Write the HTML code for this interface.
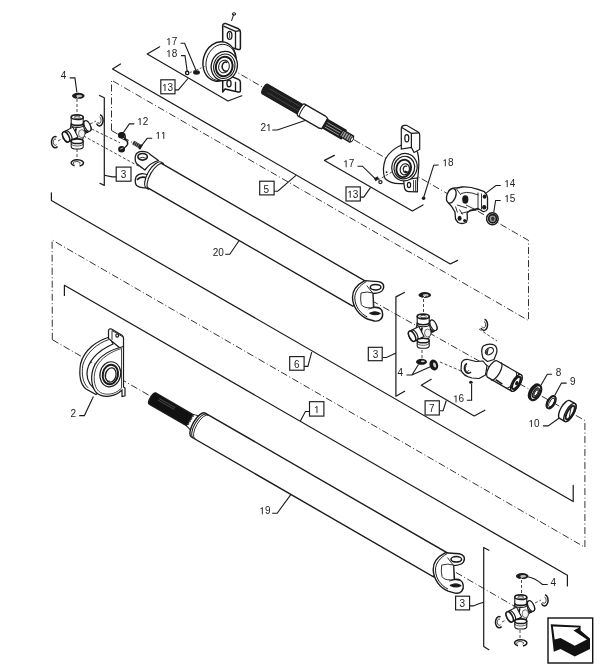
<!DOCTYPE html>
<html><head><meta charset="utf-8">
<style>
html,body{margin:0;padding:0;background:#fff;}
body{width:604px;height:671px;overflow:hidden;}
svg{display:block;will-change:transform;}
text{font-family:"Liberation Sans",sans-serif;font-size:10px;fill:#222;stroke:none;}
</style></head>
<body>
<svg width="604" height="671" viewBox="0 0 604 671">
<defs>
<g id="yoke" stroke="#1a1a1a" stroke-width="1.2" fill="#fff" stroke-linejoin="round">
  <path d="M-10.6,-6.9 C-18,-3 -23,3 -22.8,10 C-22.5,20 -16,28 -7.9,31.5 L-1,33.5 C5,34.5 8,30 7.2,25.5 C6.8,21 3,19 -1.5,19.8 L-2.5,6 C2,6 8,4.5 8.4,-0.5 C8.6,-5 4,-6.3 -1,-6.1 Z" stroke-width="1.4"/>
  <path d="M-9,-5.9 C-16,-2 -20.6,4 -20.5,10.5 C-20.3,19 -15,26 -8,29.5" fill="none" stroke-width="1"/>
  <path d="M-14.3,5.5 Q-15.2,12 -14,17 Q-12,20.5 -5,20.3 L-2,19.8 L-2.5,5.5 Q-8,3.5 -14.3,5.5 Z" stroke-width="0.9"/>
  <path d="M-8.5,-2 Q-5,3 -2.5,5.5" fill="none" stroke-width="0.9"/>
  <ellipse cx="0.3" cy="-0.3" rx="5.3" ry="2.7" stroke-width="1.5"/>
  <path d="M-5.6,25.8 Q0,22.8 4.8,26 Q0,28.6 -5.6,25.8 Z" fill="#1a1a1a"/>
  <path d="M-7,21.5 Q-1,19 5,21" fill="none" stroke-width="0.8"/>
</g>
</defs>
<!-- ===== axis dash-dot lines ===== -->
<g fill="none" stroke="#333" stroke-width="1" stroke-dasharray="7 2.5 1 2.5">
<path d="M111.5,130.5 L111.5,80.2 L528.5,320.5 L528.5,240.4 L226,66"/>
<path d="M52.3,339.7 L52.1,240 L584.9,547.3 L584.9,420.5 L368,298.5"/>
<path d="M52.3,339.7 L152,397"/>
<path d="M456,572.5 L514,606"/>
<path d="M111.5,130.5 L134,143.5"/>
</g>
<!-- ===== group brackets (solid) ===== -->
<g fill="none" stroke="#1a1a1a" stroke-width="1.2" stroke-linejoin="round" stroke-linecap="round">
<path d="M159.7,46.8 L147.2,54 L228,101 L241.8,95.8"/>
<path d="M120.5,64 L112.5,68.9 L450.3,264 L457.6,260.4"/>
<path d="M51.4,192.8 L51.4,200.5 L573.2,501.6 L573.2,485.4"/>
<path d="M64.4,295.5 L64.4,285.3 L567.4,575.3 L567.4,586"/>
<path d="M334.4,155.4 L324.5,160.4 L412.4,210.9 L423,204.9"/>
<!-- group 3 brackets -->
<path d="M99.6,95.5 L104.3,97.8 L104.3,185.4 L99.9,183.3"/>
<path d="M404.4,292.5 L395.9,296.9 L395.9,396.2 L404.6,391.2"/>
<path d="M488.9,550.3 L483.7,547.5 L483.7,646.6 L488.9,649.7"/>
<!-- group 7 bracket -->
<path d="M431.2,379.3 L421.3,385.2 L474.2,416 L484.8,410.2"/>
</g>

<!-- ===== Shaft 20 ===== -->
<g stroke="#1a1a1a" stroke-width="1.3" fill="#fff">
  <path d="M136.2,176.5 Q134,181.5 136.5,185.5 Q140,188.5 146.5,187.6 L148,175 Q140.5,171.5 136.2,176.5 Z"/>
  <path d="M137,179.8 Q140.5,175.8 146.8,177.8" fill="none" stroke-width="1.8"/>
</g>
<g transform="translate(154,175.2) rotate(30)" stroke="#1a1a1a" stroke-width="1.3" fill="#fff">
  <path d="M0,-14 L237,-14 A4,14 0 0 1 237,14 L0,14 A6,14 0 0 1 0,-14 Z"/>
  <path d="M0,-15 A6.5,15 0 0 0 0,15 L2.8,15 A6.5,15 0 0 1 2.8,-15 Z" stroke-width="1.1"/>
</g>
<g stroke="#1a1a1a" stroke-width="1.3" fill="#fff" stroke-linejoin="round">
  <path d="M144.8,170 L136.5,163.5 Q134.8,161.5 135.2,157 Q136,151.5 141.5,151.3 Q148,151.2 150.5,154.8 L158.5,160.5 Q150,163 144.8,170 Z"/>
  <ellipse cx="142.6" cy="156.8" rx="4.7" ry="3.3" stroke-width="1.6"/>
  <path d="M138.5,158.5 Q142.5,156 146.5,158.5" fill="none" stroke-width="0.9"/>
</g>
<use href="#yoke" x="375.3" y="287.5"/>

<!-- ===== Shaft 19 ===== -->
<g transform="translate(197,424.3) rotate(30)" stroke="#1a1a1a" stroke-width="1.3" fill="#fff">
  <path d="M-51.5,-6.5 L-7,-6.5 L-7,6.5 L-51.5,6.5 A2.2,6.5 0 0 1 -51.5,-6.5 Z" fill="#111"/>
  <path d="M-46,-3.5 L-27,-3.5 M-46,-1.5 L-27,-1.5" stroke="#777" stroke-width="0.5"/>
  <path d="M-8.5,-6.5 L-2,-8.5 L-2,8.5 L-8.5,6.5 Z" fill="#fff" stroke-width="0.9"/>
  <path d="M-8.5,-6.5 L-7,-5 L-8.5,-3.5 L-7,-2 L-8.5,-0.5 L-7,1 L-8.5,2.5 L-7,4 L-8.5,5.5" fill="none" stroke-width="0.8"/>
  <path d="M1.5,-13.8 L281,-13.8 L281,13.8 L1.5,13.8 A5.5,13.8 0 0 1 1.5,-13.8 Z" stroke-width="1.4"/>
  <path d="M3.5,-13.6 A5.5,13.6 0 0 0 3.5,13.6" fill="none" stroke-width="1"/>
  <path d="M5.5,-13.5 A5.5,13.5 0 0 0 5.5,13.5" fill="none" stroke-width="0.8"/>
</g>
<use href="#yoke" x="456" y="559.6"/>

<!-- ===== Shaft 21 ===== -->
<g transform="translate(264.9,89) rotate(30)" stroke="#1a1a1a" stroke-width="1.2" fill="#fff">
  <path d="M0,-5.5 L43,-5.5 L43,5.5 L0,5.5 A2,5.5 0 0 1 0,-5.5 Z" fill="#1e1e1e"/>
  <path d="M4,-2.5 L40,-2.5 M4,2 L40,2" stroke="#555" stroke-width="0.6"/>
  <path d="M69,-5 L91,-5 L91,5 L69,5 Z" fill="#1e1e1e"/>
  <path d="M71,-2.2 L89,-2.2 M71,0.5 L89,0.5 M71,3 L89,3" stroke="#bbb" stroke-width="0.7"/>
  <path d="M42,-6.8 L66,-6.8 A2,6.8 0 0 1 66,6.8 L42,6.8 A2,6.8 0 0 1 42,-6.8 Z"/>
  <path d="M44.5,-6.8 A2,6.8 0 0 0 44.5,6.8" fill="none" stroke-width="0.9"/>
  <path d="M66,-6.8 L69,-6 L69,6 L66,6.8" fill="#fff"/>
  <path d="M88,-3.6 L100,-3.6 A1.2,3.6 0 0 1 100,3.6 L88,3.6 Z" fill="#9a9a9a"/>
  <path d="M90,-3.6 L90,3.6 M92.5,-3.6 L92.5,3.6 M95,-3.6 L95,3.6 M97.5,-3.6 L97.5,3.6" stroke-width="0.9"/>
  <ellipse cx="100.5" cy="0" rx="1.2" ry="2.5" fill="#fff" stroke-width="0.9"/>
</g>

<!-- ===== Bearing 2 ===== -->
<g stroke="#1a1a1a" stroke-width="1.2" fill="#fff">
  <path d="M109.5,337 C97,340.5 84,350 80.5,364 C79,374 80,384 86,389 L96,394.5 L99,392 C92,388 87,383 87,374 C87,362 97,351 113,344 Z"/>
  <path d="M108.8,339.6 C98,343 86.5,352 82.8,365 C81.5,374 82.5,383 88.5,388.2" fill="none" stroke-width="0.9"/>
  <path d="M108.5,338.5 L108.5,330.5 Q109,328.3 111.5,329 L122,335.3 Q123.5,336.3 123.5,338 L123.5,347 L120,348 Z"/>
  <path d="M112,330.5 L112,339.8 M112,330.5 L123,337" fill="none" stroke-width="0.9"/>
  <ellipse cx="117.2" cy="335.6" rx="1.4" ry="1.6"/>
  <path d="M123.5,346.5 C111,349.5 99.5,356 94.5,365.5 C90,375 91,387 96.5,392.8 C102,398 113,397 119,392.5 L122,390 L122,396.5 L125,395.8 L125,388 L123.5,387 Z"/>
  <path d="M121.5,348.5 C111,351.5 101,358 96.8,366.5 C92.8,375 93.5,386 98.5,391 C103,395.5 112.5,395 118,391 L121.5,388.2 Z" fill="none" stroke-width="0.8"/>
  <ellipse cx="110.3" cy="374.3" rx="10.3" ry="12.6" transform="rotate(12 110.3 374.3)"/>
  <ellipse cx="110.4" cy="374.5" rx="7.6" ry="9.8" stroke-width="2" transform="rotate(12 110.4 374.5)"/>
  <ellipse cx="110.8" cy="375" rx="5.2" ry="7.2" transform="rotate(12 110.8 375)"/>
  <path d="M108,370 A3.5,5 0 0 0 110,381" fill="none" stroke-width="0.8"/>
</g>
<!-- ===== Top bearing (13) ===== -->
<g stroke="#1a1a1a" stroke-width="1.2" fill="#fff" stroke-linejoin="round">
  <path d="M222.7,44 L222.7,25.5 Q223,23.2 226,23.6 L238.5,28.8 Q240.4,29.8 240.4,32 L240.4,48 Q240.4,50 238,49.5 L233,48 Z" stroke-width="1.5"/>
  <path d="M223.5,26.2 L235.5,31.3 L240,30.6 M235.5,31.3 L235.5,48.5" fill="none" stroke-width="1.3"/>
  <ellipse cx="229.6" cy="35.4" rx="2.3" ry="3.9" stroke-width="1.3"/>
  <path d="M229.6,33 L229.6,38" fill="none" stroke-width="0.8"/>
  <path d="M222.7,92 L222.7,75.5 Q223,73.7 226,74.2 L238.5,79.4 Q240.4,80.4 240.4,82.6 L240.4,90.5 Q240.4,92.5 238,92 L225,89 Z" stroke-width="1.5"/>
  <path d="M235.5,81.8 L235.5,91.5" fill="none" stroke-width="1.3"/>
  <ellipse cx="229" cy="83.5" rx="2.1" ry="3.3" stroke-width="1.3"/>
  <ellipse cx="219.5" cy="61.5" rx="16.3" ry="20" transform="rotate(15 219.5 61.5)" stroke-width="1.4"/>
  <ellipse cx="221" cy="62.5" rx="14.8" ry="18.4" transform="rotate(15 221 62.5)" fill="none" stroke-width="0.9"/>
  <ellipse cx="224.3" cy="66" rx="13" ry="14.8" transform="rotate(15 224.3 66)" stroke-width="1.3"/>
  <ellipse cx="224.3" cy="66.3" rx="10.6" ry="12.4" transform="rotate(15 224.3 66.3)" stroke-width="1"/>
  <ellipse cx="224.2" cy="66.5" rx="8.3" ry="9.8" transform="rotate(15 224.2 66.5)" stroke-width="2"/>
  <ellipse cx="224" cy="66.5" rx="5.3" ry="6.4" transform="rotate(15 224 66.5)" stroke-width="1"/>
  <path d="M227.3,62.5 A3.6,4.6 0 1 0 227.6,70.5" fill="none" stroke-width="1.6"/>
  <path d="M233.8,14 L231.5,21" fill="none" stroke-width="1"/>
  <ellipse cx="234" cy="14" rx="1.8" ry="1.2" fill="none" stroke-width="1"/>
</g>
<!-- 17 / 18 top -->
<ellipse cx="196.5" cy="72.5" rx="3.4" ry="2.2" fill="#1a1a1a"/>
<circle cx="187.2" cy="72.9" r="1.7" fill="none" stroke="#1a1a1a" stroke-width="1.4"/>
<g fill="none" stroke="#333" stroke-width="0.8" stroke-dasharray="2 1.5"><path d="M190,72.5 L205,66.5"/></g>

<!-- ===== Lower bearing (13) ===== -->
<g stroke="#1a1a1a" stroke-width="1.2" fill="#fff">
  <path d="M402.5,144.5 Q390,150 385.5,159 Q381.5,170 385,178.5 Q391,184.5 403,183.5 L417,187 L418.5,170 Q419.5,160 417.5,152 L410,146 Z"/>
  <path d="M401.3,149 L401.3,128.5 Q401.5,125.5 404.5,125.3 L406.6,125.3 L418.5,132.2 Q419.7,133 419.7,135 L419.7,149.5 L414,152.5 L411.4,147.5 Z"/>
  <path d="M401.8,127.5 L411.4,133.3 L419,132.8 M411.4,133.3 L411.4,148" fill="none"/>
  <ellipse cx="406.8" cy="138.2" rx="2" ry="3.6"/>
  <path d="M403.6,180 L404.5,188 Q405.5,191.5 409,191.6 L417.4,191.8 L417.4,178 Z"/>
  <ellipse cx="409" cy="185" rx="1.6" ry="2.6"/>
  <path d="M413.5,180 L413.5,191.5 M415.5,180 L415.5,191.5" fill="none" stroke-width="0.8"/>
  <ellipse cx="404.5" cy="167.2" rx="12.6" ry="13.8" transform="rotate(15 404.5 167.2)"/>
  <ellipse cx="404.3" cy="167.6" rx="10.3" ry="11.4" transform="rotate(15 404.3 167.6)"/>
  <ellipse cx="403.7" cy="168.4" rx="7.2" ry="8.8" stroke-width="1.9" transform="rotate(15 403.7 168.4)"/>
  <ellipse cx="404.8" cy="169.3" rx="4.6" ry="5.6" transform="rotate(15 404.8 169.3)"/>
  <path d="M407,166.5 A2.6,3.2 0 1 0 407.2,172 L405,171.2" fill="none" stroke-width="1.3"/>
</g>
<g fill="none" stroke="#333" stroke-width="0.9" stroke-dasharray="2.5 2"><path d="M378,180 L392,172"/></g>
<circle cx="423.6" cy="198.3" r="1.8" fill="#1a1a1a"/>
<path d="M374.5,178.5 L377.5,176.8 L378.5,179 L375.5,180.8 Z" fill="#1a1a1a" stroke="#1a1a1a" stroke-width="0.8"/>
<ellipse cx="380.4" cy="182.1" rx="1.6" ry="1.5" fill="none" stroke="#1a1a1a" stroke-width="1.2"/>
<circle cx="386.6" cy="172.2" r="0.9" fill="#1a1a1a"/>

<!-- ===== Yoke 14 + nut 15 ===== -->
<g stroke="#1a1a1a" stroke-width="1.3" fill="#fff" stroke-linejoin="round">
  <path d="M449,190.5 Q452,187 457,188 L462,187 Q470,186.5 478,189.4 L484.3,191.7 Q488,195 487.5,200 L487.5,209 Q486,212 483,211.5 L478,208.5 L470,210.5 L467,213 Q468,220 466,222.5 Q462,224.5 458,222.5 L455.5,219 L455,212 Q452,206 448.5,203 Q445.5,198 449,190.5 Z"/>
  <ellipse cx="451.3" cy="195.8" rx="4.4" ry="7.6" transform="rotate(20 451.3 195.8)"/>
  <path d="M456.5,189 L461,195 M461,193.5 Q466,191.5 472,193 L478.5,195 M478,192.5 L478,208 M481.5,193.5 L481.5,209.5 M457,205 L467,208 M461,213.5 Q470,210.5 479,209.5 M455.5,206.5 L457.5,212.5 M459.5,209.5 L462.5,214.5 M466,205 L476,210" fill="none" stroke-width="0.9"/>
  <ellipse cx="465.3" cy="199.5" rx="3.1" ry="4.2" fill="#1a1a1a" stroke="none"/>
  <ellipse cx="484.6" cy="196.6" rx="1.9" ry="2.2" fill="#1a1a1a" stroke="none"/>
  <ellipse cx="484.2" cy="207.2" rx="2.1" ry="2.3" fill="#1a1a1a" stroke="none"/>
  <ellipse cx="459.6" cy="218.3" rx="2" ry="2.5" fill="#1a1a1a" stroke="none"/>
  <ellipse cx="464.6" cy="220.6" rx="1.5" ry="1.6" fill="#1a1a1a" stroke="none"/>
</g>
<g stroke="#1a1a1a" fill="#fff">
  <ellipse cx="492.4" cy="218.8" rx="5.8" ry="6" stroke-width="1.5"/>
  <ellipse cx="492.6" cy="218.8" rx="3.9" ry="4.1" stroke-width="1.7" fill="#999"/>
  <ellipse cx="492.8" cy="218.8" rx="1.7" ry="2.1" fill="#333" stroke="none"/>
</g>

<!-- ===== U-joint defs ===== -->
<defs>
<g id="uj" stroke="#1a1a1a" stroke-width="1.1" fill="#fff">
  <g transform="rotate(-27)">
    <path d="M2,-5.6 L11.5,-5.6 A2.8,5.6 0 0 1 11.5,5.6 L2,5.6 Z"/>
    <ellipse cx="11.5" cy="0" rx="2.8" ry="5.6"/>
    <path d="M9.3,-5.3 A2.8,5.3 0 0 0 9.3,5.3" fill="none" stroke-width="2.2"/>
  </g>
  <path d="M-6,-7 L6,-7 L8,2 L5,9 L-6,10 L-8,2 Z"/>
  <path d="M-1,-3 Q-3,3 -1,9" fill="none" stroke-width="1.8"/>
  <ellipse cx="4.5" cy="2.5" rx="3.2" ry="4" fill="#f4f4f4" stroke-width="0.6"/>
  <path d="M-6,-14 L-6,-6 A6,2.2 0 0 0 6,-6 L6,-14 Z"/>
  <path d="M-6,-8 A6,2.2 0 0 0 6,-8" fill="none" stroke-width="1.6"/>
  <ellipse cx="0" cy="-14" rx="6" ry="2.3" stroke-width="1.7"/>
  <ellipse cx="0" cy="-14" rx="3" ry="1.1" fill="none" stroke-width="0.7"/>
  <g transform="rotate(-27)">
    <path d="M-2,-5.6 L-12.5,-5.6 A2.8,5.6 0 0 0 -12.5,5.6 L-2,5.6 Z"/>
    <ellipse cx="-12.5" cy="0" rx="2.8" ry="5.6" stroke-width="1.5"/>
    <path d="M-10,-5.5 A2.8,5.5 0 0 1 -10,5.5" fill="none" stroke-width="1.2"/>
  </g>
  <path d="M-6,10 L-6,15.5 A6,2.3 0 0 0 6,15.5 L6,10 Z"/>
  <ellipse cx="0" cy="10" rx="6" ry="2.3" stroke-width="1.6"/>
  <path d="M-6,12.5 A6,2.3 0 0 0 6,12.5" fill="none" stroke-width="0.7"/>
</g>
<g id="ring" >
  <ellipse cx="0" cy="0" rx="6.3" ry="3" fill="#1a1a1a"/>
  <ellipse cx="0.9" cy="0.2" rx="3" ry="1.2" fill="#bbb"/>
  <path d="M-1.5,2.8 L0.3,0.8" stroke="#fff" stroke-width="0.9"/>
</g>
<g id="cring" fill="none" stroke="#1a1a1a" stroke-width="1.5">
  <path d="M1,-5.2 A3.6,5.6 0 1 1 -2.5,3.5"/>
  <path d="M0.5,-3 A2,3.2 0 1 1 -1.5,2" stroke-width="0.8"/>
</g>
<g id="cringL" fill="none" stroke="#1a1a1a" stroke-width="1.5">
  <path d="M1.5,-5 A3.6,5.6 0 1 0 2.5,4.5"/>
  <path d="M1,-2.8 A2,3.2 0 1 0 1.5,2.6" stroke-width="0.8"/>
</g>
<g id="bring" fill="none" stroke="#1a1a1a" stroke-width="1.5">
  <path d="M-2,2.8 A6.2,3.2 0 1 1 3,2.9"/>
  <path d="M-2.5,1.2 A3.5,1.6 0 1 1 2.5,1.3" stroke-width="0.8"/>
</g>
</defs>

<!-- top-left U-joint -->
<g fill="none" stroke="#333" stroke-width="0.9" stroke-dasharray="3 2">
  <path d="M77,99 L77,113"/><path d="M77,149 L77,160"/>
  <path d="M58,141 L63,138"/><path d="M90,124 L96,121"/>
  <path d="M91.6,128.9 L120,142.8"/><path d="M83.5,135.9 L141.4,167.7"/>
</g>
<use href="#uj" x="77.2" y="131.2"/>
<use href="#ring" x="78.3" y="95.8"/>
<use href="#cring" x="99" y="120"/>
<use href="#cringL" x="55" y="142"/>
<use href="#bring" x="76.6" y="163"/>

<!-- middle U-joint -->
<g fill="none" stroke="#333" stroke-width="0.9" stroke-dasharray="3 2">
  <path d="M423.5,299 L423.5,313"/><path d="M422,350 L422,358"/>
  
</g>
<use href="#uj" x="423.2" y="330.5"/>
<use href="#ring" x="424.8" y="295"/>
<ellipse cx="421.5" cy="361.8" rx="5.5" ry="3" fill="#1a1a1a"/>
<ellipse cx="422.8" cy="361.3" rx="2" ry="0.9" fill="#ccc"/>
<ellipse cx="433.8" cy="365" rx="4.2" ry="5.5" fill="#1a1a1a" transform="rotate(-20 433.8 365)"/>
<ellipse cx="434.6" cy="365" rx="1.4" ry="2.6" fill="#ccc" transform="rotate(-20 434.6 365)"/>

<!-- bottom-right U-joint -->
<g fill="none" stroke="#333" stroke-width="0.9" stroke-dasharray="3 2">
  <path d="M521.5,580 L521.5,594"/><path d="M520,630 L520,639"/>
  <path d="M502,622 L506,620"/><path d="M535,603 L541,600"/>
</g>
<use href="#uj" x="520.8" y="611.2"/>
<use href="#ring" x="522.2" y="576.1"/>
<use href="#cring" x="544" y="600"/>
<use href="#cringL" x="499" y="622"/>
<use href="#bring" x="520" y="643"/>

<!-- clip 12, bolt 11 -->
<g fill="none" stroke="#1a1a1a" stroke-width="1.5" stroke-linecap="round">
  <path d="M119,134 Q121.5,131.5 124.5,134 Q126,137 124.5,139 Q128.5,141 127.5,144.5 Q126,147.5 123,148.5"/>
  <path d="M120,137 Q122,139 125,140" stroke-width="1"/>
  <ellipse cx="121.3" cy="135.4" rx="2.6" ry="2.3" fill="#1a1a1a"/>
  <ellipse cx="121.6" cy="149.2" rx="2.7" ry="2.5" fill="#1a1a1a"/>
  <path d="M120.5,149 L123,148" stroke="#fff" stroke-width="0.7"/>
</g>
<g transform="translate(137,144.8) rotate(30)"><rect x="-4.5" y="-2" width="9" height="4" fill="#2a2a2a"/><path d="M-2.5,-2 L-2.5,2 M-0.5,-2 L-0.5,2 M1.5,-2 L1.5,2" stroke="#aaa" stroke-width="0.6"/><rect x="3.2" y="-2.6" width="2" height="5.2" fill="#1a1a1a"/></g>

<!-- ===== Part 7 slip yoke ===== -->
<g stroke="#1a1a1a" stroke-width="1.2" fill="#fff" stroke-linejoin="round">
  <path d="M461.5,363 Q463,359 468,359.5 L476,361.5 L483,361 L487,366 L485.5,375 L479,378.5 L472,378 Q463,376 461,370 Z"/>
  <path d="M483,358 Q480.3,349.5 483.3,346 Q489,342.8 494.6,345.3 Q497.8,348 496.6,353 L494,359.5 L487.5,361.5 Z"/>
  <ellipse cx="489.4" cy="351.2" rx="4.4" ry="3.2" transform="rotate(-35 489.4 351.2)" stroke-width="1.1"/>
  <path d="M486,353.5 Q485.5,349.5 489,348.2 Q488,351 487.8,354.5 Z" fill="#333" stroke="none"/>
  <g transform="translate(492,370) rotate(30)">
    <path d="M0,-10.5 L27.5,-10.5 A4,9.5 0 0 1 27.5,8.5 L0,8.5 A4,9.5 0 0 1 0,-10.5 Z"/>
    <path d="M4,-11 A4,10 0 0 1 4,9" fill="none"/>
    <path d="M21,-10.5 A4,9.5 0 0 1 21,8.5" fill="none" stroke-width="0.9"/>
    <path d="M24,-10.5 A4,9.5 0 0 1 24,8.5" fill="none" stroke-width="0.9"/>
    <path d="M8,6.5 L16,7" fill="none" stroke-width="1.6"/>
    <ellipse cx="27.5" cy="-1" rx="4" ry="9.5" stroke-width="1.3"/>
    <ellipse cx="27.5" cy="-1" rx="2.8" ry="7" stroke-width="2"/>
    <ellipse cx="28" cy="-1" rx="0.9" ry="1.5" fill="#1a1a1a"/>
  </g>
</g>
<g fill="none" stroke="#1a1a1a" stroke-width="1.6">
  <path d="M467,363.5 A4,5 0 1 0 471,372" />
  <path d="M466.5,366 A2,2.8 0 1 0 469,370" stroke-width="0.8"/>
</g>
<ellipse cx="470.9" cy="382.3" rx="1.8" ry="1.5" fill="#1a1a1a"/>
<use href="#cring" x="483.5" y="324.5"/>
<g fill="none" stroke="#333" stroke-width="0.9" stroke-dasharray="3 2"><path d="M479,329 L497,341"/><path d="M440,362 L461,371"/></g>

<!-- 8, 9, 10 -->
<g stroke="#1a1a1a" fill="none">
  <g transform="translate(535.4,392.5) rotate(30)">
    <ellipse cx="-1.2" cy="0" rx="4.4" ry="8.2" stroke-width="2.2" fill="#fff"/>
    <ellipse cx="0.4" cy="0" rx="4.4" ry="8.2" stroke-width="2.2" fill="#fff"/>
    <ellipse cx="0.6" cy="0" rx="2.6" ry="5.4" stroke-width="1.1" fill="#666"/>
    <ellipse cx="0.8" cy="0" rx="1.4" ry="3.2" stroke-width="0.8" fill="#fff"/>
  </g>
  <g transform="translate(551.2,402.2) rotate(30)">
    <ellipse cx="-0.6" cy="0" rx="3.4" ry="6.9" stroke-width="1.4"/>
    <ellipse cx="0.4" cy="0" rx="3.4" ry="6.9" stroke-width="1.5"/>
    <ellipse cx="0.6" cy="0" rx="2.1" ry="4.9" stroke-width="0.8"/>
  </g>
  <g transform="translate(567.3,411) rotate(30)" fill="#fff">
    <path d="M-3,-10.2 L3,-10.2 A4,10.2 0 0 1 3,10.2 L-3,10.2 A4,10.2 0 0 1 -3,-10.2 Z" stroke-width="1.4"/>
    <ellipse cx="3" cy="0" rx="4" ry="10.2" stroke-width="1.4"/>
    <ellipse cx="3.3" cy="0" rx="2.8" ry="7.6" stroke-width="1.8"/>
    <path d="M1.5,-5 L5,5" stroke-width="0.8"/>
  </g>
</g>
<!-- ===== labels ===== -->
<g fill="#fff" stroke="#1a1a1a" stroke-width="1.15">
  <rect x="160.8" y="79.8" width="14.2" height="14"/>
  <rect x="116.2" y="167.1" width="14.8" height="14.1"/>
  <rect x="259.7" y="181.2" width="14.4" height="13.7"/>
  <rect x="346" y="186.9" width="14.3" height="14.1"/>
  <rect x="289.7" y="356.6" width="14.4" height="13.6"/>
  <rect x="368.3" y="347.3" width="13.9" height="13.4"/>
  <rect x="425.1" y="400.8" width="14.2" height="14.2"/>
  <rect x="309.5" y="401.7" width="14.4" height="14.4"/>
  <rect x="455.6" y="596.2" width="14" height="13.7"/>
</g>
<g fill="none" stroke="#1a1a1a" stroke-width="1.1">
  <path d="M174.9,89.9 L178.3,89.9 L188,78.5"/>
  <path d="M180.6,43.3 L184.6,43.3 L196.3,71"/>
  <path d="M181,55.6 L185,55.6 L187.2,71.3"/>
  <path d="M69.7,77.9 L74.9,77.9 L76.9,92.4"/>
  <path d="M104.3,175.2 L112.2,176.9 L116.2,176.9"/>
  <path d="M134.3,123.9 L129.4,123.9 L122.9,133.3"/>
  <path d="M152.2,138.3 L147.2,138.3 L141.8,145.3"/>
  <path d="M272.3,130 L277.3,130 L305.1,120.5"/>
  <path d="M274,191.2 L277.7,191.2 L296,175.4"/>
  <path d="M357.5,166.2 L362.4,166.2 L375.4,178.8"/>
  <path d="M360.3,197.1 L363.8,197.1 L370.6,187.4"/>
  <path d="M438.7,165 L433.7,165.2 L423.8,197"/>
  <path d="M500.7,185.5 L495.9,185.5 L486.3,192.9"/>
  <path d="M500.7,200.5 L495.6,200.5 L493.8,212"/>
  <path d="M225.2,254.2 L229.8,254.2 L239,240.7"/>
  <path d="M304.1,366.4 L307.9,366.4 L311.7,352.2"/>
  <path d="M382.6,357.5 L386.4,357.5 L396,353.1"/>
  <path d="M406.4,375 L411.9,375 L418.5,364.5 M411.9,375 L430.8,366.5"/>
  <path d="M466.9,400.2 L471.6,400.2 L471.6,384"/>
  <path d="M439.9,410.7 L443.1,410.7 L446.3,400.5"/>
  <path d="M309.5,411.5 L305.4,411.5 L300.4,421"/>
  <path d="M552.1,374.3 L547.3,374.3 L540.2,386.6"/>
  <path d="M566.7,383.1 L561.5,383.1 L554.7,395.6"/>
  <path d="M542.9,425.9 L548.1,425.9 L559.3,418"/>
  <path d="M79.2,415.6 L84.4,415.6 L93.4,396.4"/>
  <path d="M272.2,513.2 L277.2,513.2 L290.8,494.6"/>
  <path d="M469.5,605.9 L473.2,605.9 Q478,604 483.7,602.3"/>
  <path d="M547.7,584.5 L542.5,584.5 Q535,578 527.7,576.8"/>
</g>
<g id="labels" font-size="9.8" text-anchor="middle" style="font-family:'Liberation Sans',sans-serif">
  <text x="167.60" y="91.0">&#x2007;3</text>
  <text x="123.50" y="178.3">3</text>
  <text x="266.40" y="192.5">5</text>
  <text x="352.80" y="197.8">&#x2007;3</text>
  <text x="296.90" y="367.8">6</text>
  <text x="375.50" y="358.3">3</text>
  <text x="431.90" y="411.8">7</text>
  <text x="316.80" y="413.1">&#x2007;</text>
  <text x="462.40" y="607.3">3</text>
  <text x="171.65" y="45.1">&#x2007;7</text>
  <text x="171.65" y="57.1">&#x2007;8</text>
  <text x="63.60" y="78.8">4</text>
  <text x="142.70" y="125.0">&#x2007;2</text>
  <text x="160.90" y="138.9">&#x2007;&#x2007;</text>
  <text x="266.10" y="131.1">2&#x2007;</text>
  <text x="348.70" y="167.3">&#x2007;7</text>
  <text x="447.90" y="166.3">&#x2007;8</text>
  <text x="509.80" y="187.1">&#x2007;4</text>
  <text x="509.80" y="202.1">&#x2007;5</text>
  <text x="218.20" y="255.8">20</text>
  <text x="400.30" y="375.6">4</text>
  <text x="458.60" y="402.4">&#x2007;6</text>
  <text x="558.50" y="375.8">8</text>
  <text x="572.80" y="384.7">9</text>
  <text x="534.00" y="427.0">&#x2007;0</text>
  <text x="73.40" y="417.0">2</text>
  <text x="264.90" y="514.3">&#x2007;9</text>
  <text x="553.40" y="585.8">4</text>
</g>
<path id="ones" d="M165.03,84.24 L165.03,91.00 M165.13,84.44 L163.23,85.51 M350.23,191.04 L350.23,197.80 M350.33,191.24 L348.43,192.31 M316.96,406.34 L316.96,413.10 M317.06,406.54 L315.15,407.61 M169.08,38.34 L169.08,45.10 M169.18,38.54 L167.28,39.61 M169.08,50.34 L169.08,57.10 M169.18,50.54 L167.28,51.61 M140.13,118.24 L140.13,125.00 M140.23,118.44 L138.33,119.51 M158.33,132.14 L158.33,138.90 M158.43,132.34 L156.53,133.41 M163.78,132.14 L163.78,138.90 M163.88,132.34 L161.98,133.41 M268.98,124.34 L268.98,131.10 M269.08,124.54 L267.18,125.61 M346.13,160.54 L346.13,167.30 M346.23,160.74 L344.33,161.81 M445.33,159.54 L445.33,166.30 M445.43,159.74 L443.53,160.81 M507.23,180.34 L507.23,187.10 M507.33,180.54 L505.43,181.61 M507.23,195.34 L507.23,202.10 M507.33,195.54 L505.43,196.61 M456.03,395.64 L456.03,402.40 M456.13,395.84 L454.23,396.91 M531.43,420.24 L531.43,427.00 M531.53,420.44 L529.63,421.51 M262.33,507.54 L262.33,514.30 M262.43,507.74 L260.53,508.81" stroke="#222" stroke-width="0.95" fill="none"/>


<!-- ===== logo ===== -->
<g>
  <rect x="548" y="618" width="44.7" height="45" fill="#fff" stroke="#111" stroke-width="1.4"/>
  <path d="M550.7,624.3 L580.6,625.8 L580.6,630.5 L590,638.5 L590,649 L574.8,656.4 L560.5,649 L553.8,651.8 Z" fill="#111"/>
  <path d="M552.9,626.5 L579.3,627.4 L573.5,630.5 L586.9,639.5 L574.8,645.7 L560.5,638.1 L554.7,639.5 Z" fill="#fff"/>
</g>
</svg>
</body></html>
